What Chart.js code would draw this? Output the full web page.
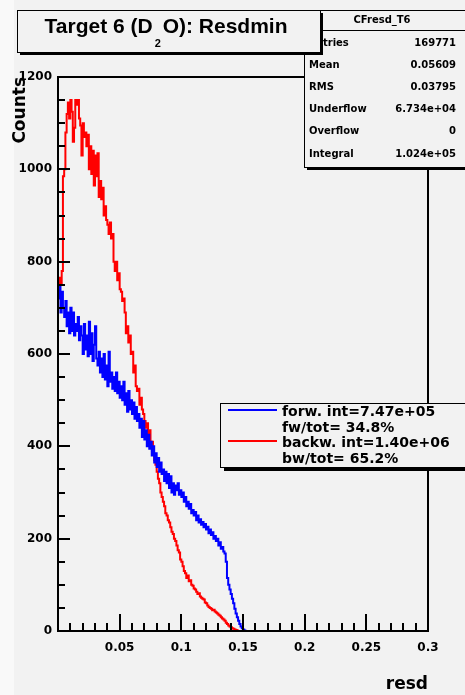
<!DOCTYPE html>
<html>
<head>
<meta charset="utf-8">
<script src="https://cdn.jsdelivr.net/npm/chart.js@4.4.1/dist/chart.umd.min.js"></script>
<style>
  html, body { margin: 0; padding: 0; background: #f9f9f9; }
  canvas { display: block; }
</style>
</head>
<body>
<canvas id="resd" width="465" height="695"></canvas>
<script>
// ── Data (histogram bins, width 0.001 starting at 0) ──────────
const BIN_START = 0;
const BIN_WIDTH = 0.001;
const X_MAX = 0.3;

// forward (blue)
const forwCounts = [
  720, 745, 690, 735, 700, 680, 715, 660, 690, 645,
  700, 650, 690, 640, 665, 650, 680, 630, 660, 640,
  600, 665, 610, 640, 595, 670, 600, 645, 585, 620,
  660, 590, 575, 605, 560, 590, 550, 600, 545, 575,
  530, 605, 540, 560, 525, 550, 520, 560, 515, 540,
  505, 530, 500, 540, 490, 515, 475, 520, 480, 500,
  470, 495, 460, 485, 455, 470, 440, 460, 420, 455,
  415, 435, 400, 425, 395, 410, 380, 400, 365, 385,
  355, 375, 345, 365, 340, 350, 325, 345, 320, 340,
  310, 335, 300, 320, 295, 315, 305, 320, 295, 305,
  290, 300, 280, 290, 270, 280, 265, 275, 255, 262,
  250, 258, 240, 250, 235, 242, 230, 236, 225, 232,
  220, 226, 212, 220, 208, 214, 200, 206, 195, 200,
  185, 192, 178, 182, 172, 168, 150, 115, 100, 90,
  80, 70, 60, 48, 38, 30, 22, 15, 10, 6,
  3, 1
];

// backward (red)
const backwCounts = [
  735, 765, 750, 780, 985, 1000, 1080, 1120, 1145, 1110,
  1150, 1125, 1060, 1090, 1150, 1140, 1150, 1110, 1095, 1030,
  1100, 1070, 1080, 1050, 1075, 1000, 1050, 990, 1040, 965,
  1030, 985, 1035, 940, 975, 935, 960, 900, 920, 890,
  880, 860, 885, 850, 860, 800, 780, 800, 760, 775,
  740, 735, 715, 720, 690, 645, 660, 625, 640, 600,
  605, 560, 575, 530, 520, 525, 490, 505, 480, 470,
  455, 440, 450, 420, 435, 400, 410, 385, 370, 360,
  345, 330, 320, 300, 290, 280, 270, 255, 250, 240,
  235, 225, 215, 210, 200, 195, 185, 175, 170, 155,
  150, 140, 130, 125, 115, 120, 108, 110, 100, 98,
  92, 90, 85, 80, 82, 75, 72, 70, 68, 62,
  60, 55, 52, 50, 48, 45, 46, 42, 40, 38,
  35, 33, 30, 27, 25, 22, 18, 15, 12, 10,
  8, 6, 5, 3, 2, 1
];

const X_TICKS = [0.05, 0.1, 0.15, 0.2, 0.25, 0.3];
const X_TICK_LABELS = ['0.05', '0.1', '0.15', '0.2', '0.25', '0.3'];
const Y_TICKS = [0, 200, 400, 600, 800, 1000, 1200];
const Y_TICK_LABELS = ['0', '200', '400', '600', '800', '1000', '1200'];

const LEGEND_LINES = [
  { color: '#0000ff', text: 'forw. int=7.47e+05', sub: 'fw/tot= 34.8%' },
  { color: '#ff0000', text: 'backw. int=1.40e+06', sub: 'bw/tot= 65.2%' },
];

const STATS_NAME = 'CFresd_T6';
const STATS_KEYS = ['Entries', 'Mean', 'RMS', 'Underflow', 'Overflow', 'Integral'];
const STATS_VALUES = ['169771', '0.05609', '0.03795', '6.734e+04', '0', '1.024e+05'];

// ── Helpers ───────────────────────────────────────────
function histPoints(counts) {
  const pts = counts.map((c, i) => ({ x: BIN_START + i * BIN_WIDTH, y: c }));
  pts.push({ x: BIN_START + counts.length * BIN_WIDTH, y: 0 });
  pts.push({ x: X_MAX, y: 0 });
  return pts;
}

const BG = '#f2f2f2';
const FONT = 'DejaVu Sans';

function box(ctx, x, y, w, h, shadow) {
  ctx.fillStyle = '#000';
  ctx.fillRect(x + shadow, y + h, w, shadow);
  ctx.fillRect(x + w, y + shadow, shadow, h);
  ctx.fillStyle = BG;
  ctx.fillRect(x, y, w, h);
  ctx.strokeStyle = '#000';
  ctx.lineWidth = 1;
  ctx.strokeRect(x + 0.5, y + 0.5, w, h);
}

// ── ROOT-style decorations ─────────────────────────────
const rootDecor = {
  id: 'rootDecor',
  beforeDraw(chart) {
    const ctx = chart.ctx;
    ctx.save();
    ctx.fillStyle = '#f9f9f9';
    ctx.fillRect(0, 0, chart.width, chart.height);
    ctx.fillStyle = BG;
    ctx.fillRect(14, 0, chart.width - 14, chart.height);
    ctx.restore();
  },
  afterDraw(chart) {
    const ctx = chart.ctx;
    const { left, right, top, bottom } = chart.chartArea;
    const xs = chart.scales.x, ys = chart.scales.y;
    ctx.save();

    // frame
    ctx.strokeStyle = '#000';
    ctx.lineWidth = 2;
    ctx.strokeRect(left, top, right - left, bottom - top);

    // y ticks (inside, every 50, major every 200)
    ctx.beginPath();
    for (let v = 0; v <= 1200; v += 50) {
      const py = Math.round(ys.getPixelForValue(v));
      const len = v % 200 === 0 ? 12 : 7;
      ctx.moveTo(left, py);
      ctx.lineTo(left + len, py);
    }
    // x ticks (inside, every 0.01, major every 0.05)
    for (let k = 0; k <= 30; k++) {
      const px = Math.round(xs.getPixelForValue(k / 100));
      const len = k % 5 === 0 ? 17 : 8;
      ctx.moveTo(px, bottom);
      ctx.lineTo(px, bottom - len);
    }
    ctx.stroke();

    // legend
    box(ctx, 220, 403, 260, 64, 4);
    ctx.font = `bold 14px "${FONT}"`;
    ctx.textBaseline = 'alphabetic';
    ctx.textAlign = 'left';
    LEGEND_LINES.forEach((l, i) => {
      const y0 = 410 + i * 31;
      ctx.strokeStyle = l.color;
      ctx.lineWidth = 2;
      ctx.beginPath();
      ctx.moveTo(228, y0);
      ctx.lineTo(277, y0);
      ctx.stroke();
      ctx.fillStyle = '#000';
      ctx.fillText(l.text, 282, y0 + 6);
      ctx.fillText(l.sub, 282, y0 + 22);
    });

    // stats box
    box(ctx, 304, 10, 175, 157, 3);
    ctx.strokeStyle = '#000';
    ctx.lineWidth = 1;
    ctx.beginPath();
    ctx.moveTo(304, 30.5);
    ctx.lineTo(465, 30.5);
    ctx.stroke();
    ctx.fillStyle = '#000';
    ctx.font = `bold 10px "${FONT}"`;
    ctx.textBaseline = 'middle';
    ctx.textAlign = 'center';
    ctx.fillText(STATS_NAME, 382, 20);
    STATS_KEYS.forEach((k, i) => {
      const y0 = 43 + i * 22.2;
      ctx.textAlign = 'left';
      ctx.fillText(k, 309, y0);
      ctx.textAlign = 'right';
      ctx.fillText(STATS_VALUES[i], 456, y0);
    });

    // title box
    box(ctx, 17, 10, 303, 42, 3);
    ctx.fillStyle = '#000';
    ctx.textBaseline = 'alphabetic';
    ctx.textAlign = 'left';
    ctx.font = 'bold 21px "Liberation Sans"';
    const partA = 'Target 6 (D', partB = 'O): Resdmin';
    const wA = ctx.measureText(partA).width;
    const wB = ctx.measureText(partB).width;
    const gap = 10;
    const x0 = 166 - (wA + gap + wB) / 2;
    ctx.fillText(partA, x0, 33);
    ctx.fillText(partB, x0 + wA + gap, 33);
    ctx.font = 'bold 11px "Liberation Sans"';
    ctx.fillText('2', x0 + wA + 2, 47);

    ctx.restore();
  }
};

// ── Chart ─────────────────────────────────────────────
Chart.defaults.font.family = FONT;
Chart.defaults.color = '#000';

new Chart(document.getElementById('resd').getContext('2d'), {
  type: 'line',
  data: {
    datasets: [
      { label: 'forw', data: histPoints(forwCounts), borderColor: '#0000ff',
        borderWidth: 2, pointRadius: 0, stepped: true, fill: false },
      { label: 'backw', data: histPoints(backwCounts), borderColor: '#ff0000',
        borderWidth: 2, pointRadius: 0, stepped: true, fill: false },
    ]
  },
  options: {
    responsive: false,
    animation: false,
    devicePixelRatio: 1,
    layout: { padding: { top: 77, right: 37, left: 0, bottom: 0 } },
    plugins: { legend: { display: false }, tooltip: { enabled: false } },
    scales: {
      x: {
        type: 'linear', min: 0, max: X_MAX,
        afterBuildTicks: s => { s.ticks = X_TICKS.map(v => ({ value: v })); },
        afterFit: s => { s.height = 64; },
        grid: { display: false, drawTicks: false },
        border: { display: false },
        ticks: { autoSkip: false, maxRotation: 0, padding: 10,
                 font: { family: FONT, weight: 'bold', size: 12 },
                 callback: (v, i) => X_TICK_LABELS[i] },
        title: { display: true, text: 'resd', align: 'end',
                 font: { family: FONT, weight: 'bold', size: 17 },
                 padding: { top: 0, bottom: 0 } }
      },
      y: {
        min: 0, max: 1200,
        afterBuildTicks: s => { s.ticks = Y_TICKS.map(v => ({ value: v })); },
        afterFit: s => { s.width = 58; },
        grid: { display: false, drawTicks: false },
        border: { display: false },
        ticks: { autoSkip: false, padding: 6,
                 font: { family: FONT, weight: 'bold', size: 12 },
                 callback: (v, i) => Y_TICK_LABELS[i] },
        title: { display: true, text: 'Counts', align: 'end',
                 font: { family: FONT, weight: 'bold', size: 17 },
                 padding: { top: 10, bottom: 0 } }
      }
    }
  },
  plugins: [rootDecor]
});
</script>
</body>
</html>
